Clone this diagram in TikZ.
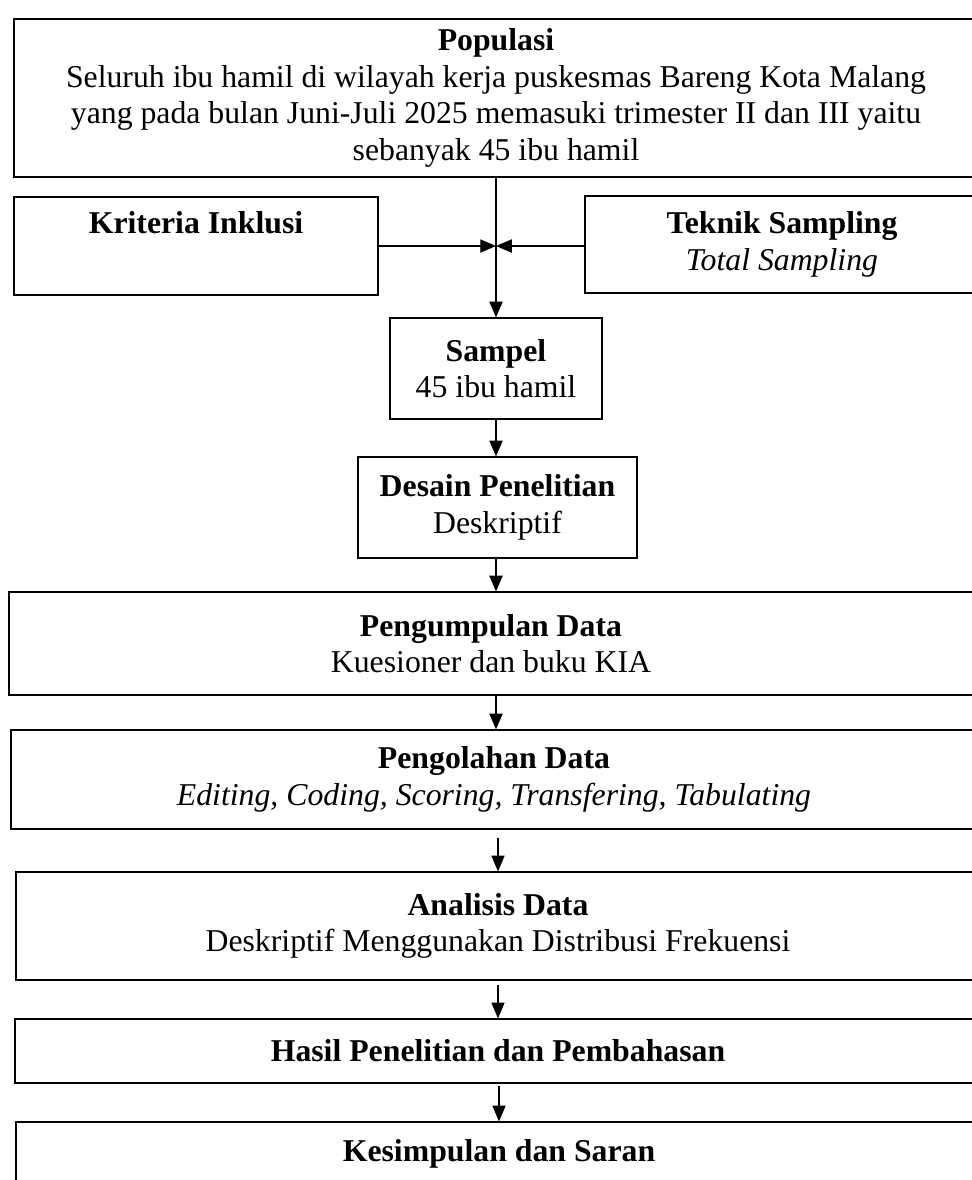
\documentclass[tikz,border=0pt]{standalone}
\usepackage{fontspec}
\setmainfont{Liberation Serif}
\usetikzlibrary{arrows.meta}
\newcommand{\pxu}{0.381pt}
\tikzset{
  flow box/.style 2 args={
    draw,
    line width=0.45pt,
    align=center,
    inner sep=0pt,
    minimum width={#1*\pxu},
    minimum height={#2*\pxu},
    font=\fontsize{12.1pt}{13.9pt}\selectfont,
  },
  flow arrow/.style={
    -{Triangle[length=6pt,width=5pt]},
    line width=0.55pt,
  }
}

\begin{document}
\begin{tikzpicture}[x=\pxu,y=-\pxu]
        \useasboundingbox (0,0) rectangle (971,1180);

        \node [flow box={964}{158}] (pop) at (496,98) {\textbf{Populasi}\\Seluruh ibu hamil di wilayah kerja puskesmas Bareng Kota Malang\\yang pada bulan Juni-Juli 2025 memasuki trimester II dan III yaitu\\sebanyak 45 ibu hamil};
        \node [flow box={364}{98}] (krit) at (196,246) {\textbf{Kriteria Inklusi}\\\strut};
        \node [flow box={394}{97}] (tek) at (782,244.5) {\textbf{Teknik Sampling}\\\textit{Total Sampling}};
        \node [flow box={212}{101}] (smp) at (496,368.5) {\textbf{Sampel}\\45 ibu hamil};
        \node [flow box={279}{101}] (dsn) at (497.5,507.5) {\textbf{Desain Penelitian}\\Deskriptif};
        \node [flow box={964}{103}] (kump) at (491,643.5) {\textbf{Pengumpulan Data}\\Kuesioner dan buku KIA};
        \node [flow box={966}{99}] (olah) at (494,779.5) {\textbf{Pengolahan Data}\\\textit{Editing, Coding, Scoring, Transfering, Tabulating}};
        \node [flow box={964}{108}] (anl) at (498,926) {\textbf{Analisis Data}\\Deskriptif Menggunakan Distribusi Frekuensi};
        \node [flow box={966}{64}] (hsl) at (498,1051) {\textbf{Hasil Penelitian dan Pembahasan}};
        \node [flow box={966}{64}] (simp) at (499,1154) {\textbf{Kesimpulan dan Saran}};

        \coordinate (join) at (pop.south |- krit.east);

        \draw [flow arrow] (pop.south) -- (smp.north);
        \draw [flow arrow] (krit.east) -- (join);
        \draw [flow arrow] (tek.west |- join) -- (join);
        \draw [flow arrow] (smp.south) -- (smp.south |- dsn.north);
        \draw [flow arrow] (smp.south |- dsn.south) -- (smp.south |- kump.north);
        \draw [flow arrow] (smp.south |- kump.south) -- (smp.south |- olah.north);
        \draw [flow arrow, line width=0.4pt, shorten <={8*\pxu}] (anl.north |- olah.south) -- (anl.north);
        \draw [flow arrow, line width=0.4pt, shorten <={4*\pxu}] (anl.south) -- (hsl.north);
        \draw [flow arrow, line width=0.4pt, shorten <={2*\pxu}] (simp.north |- hsl.south) -- (simp.north);
    \end{tikzpicture}
\end{document}
